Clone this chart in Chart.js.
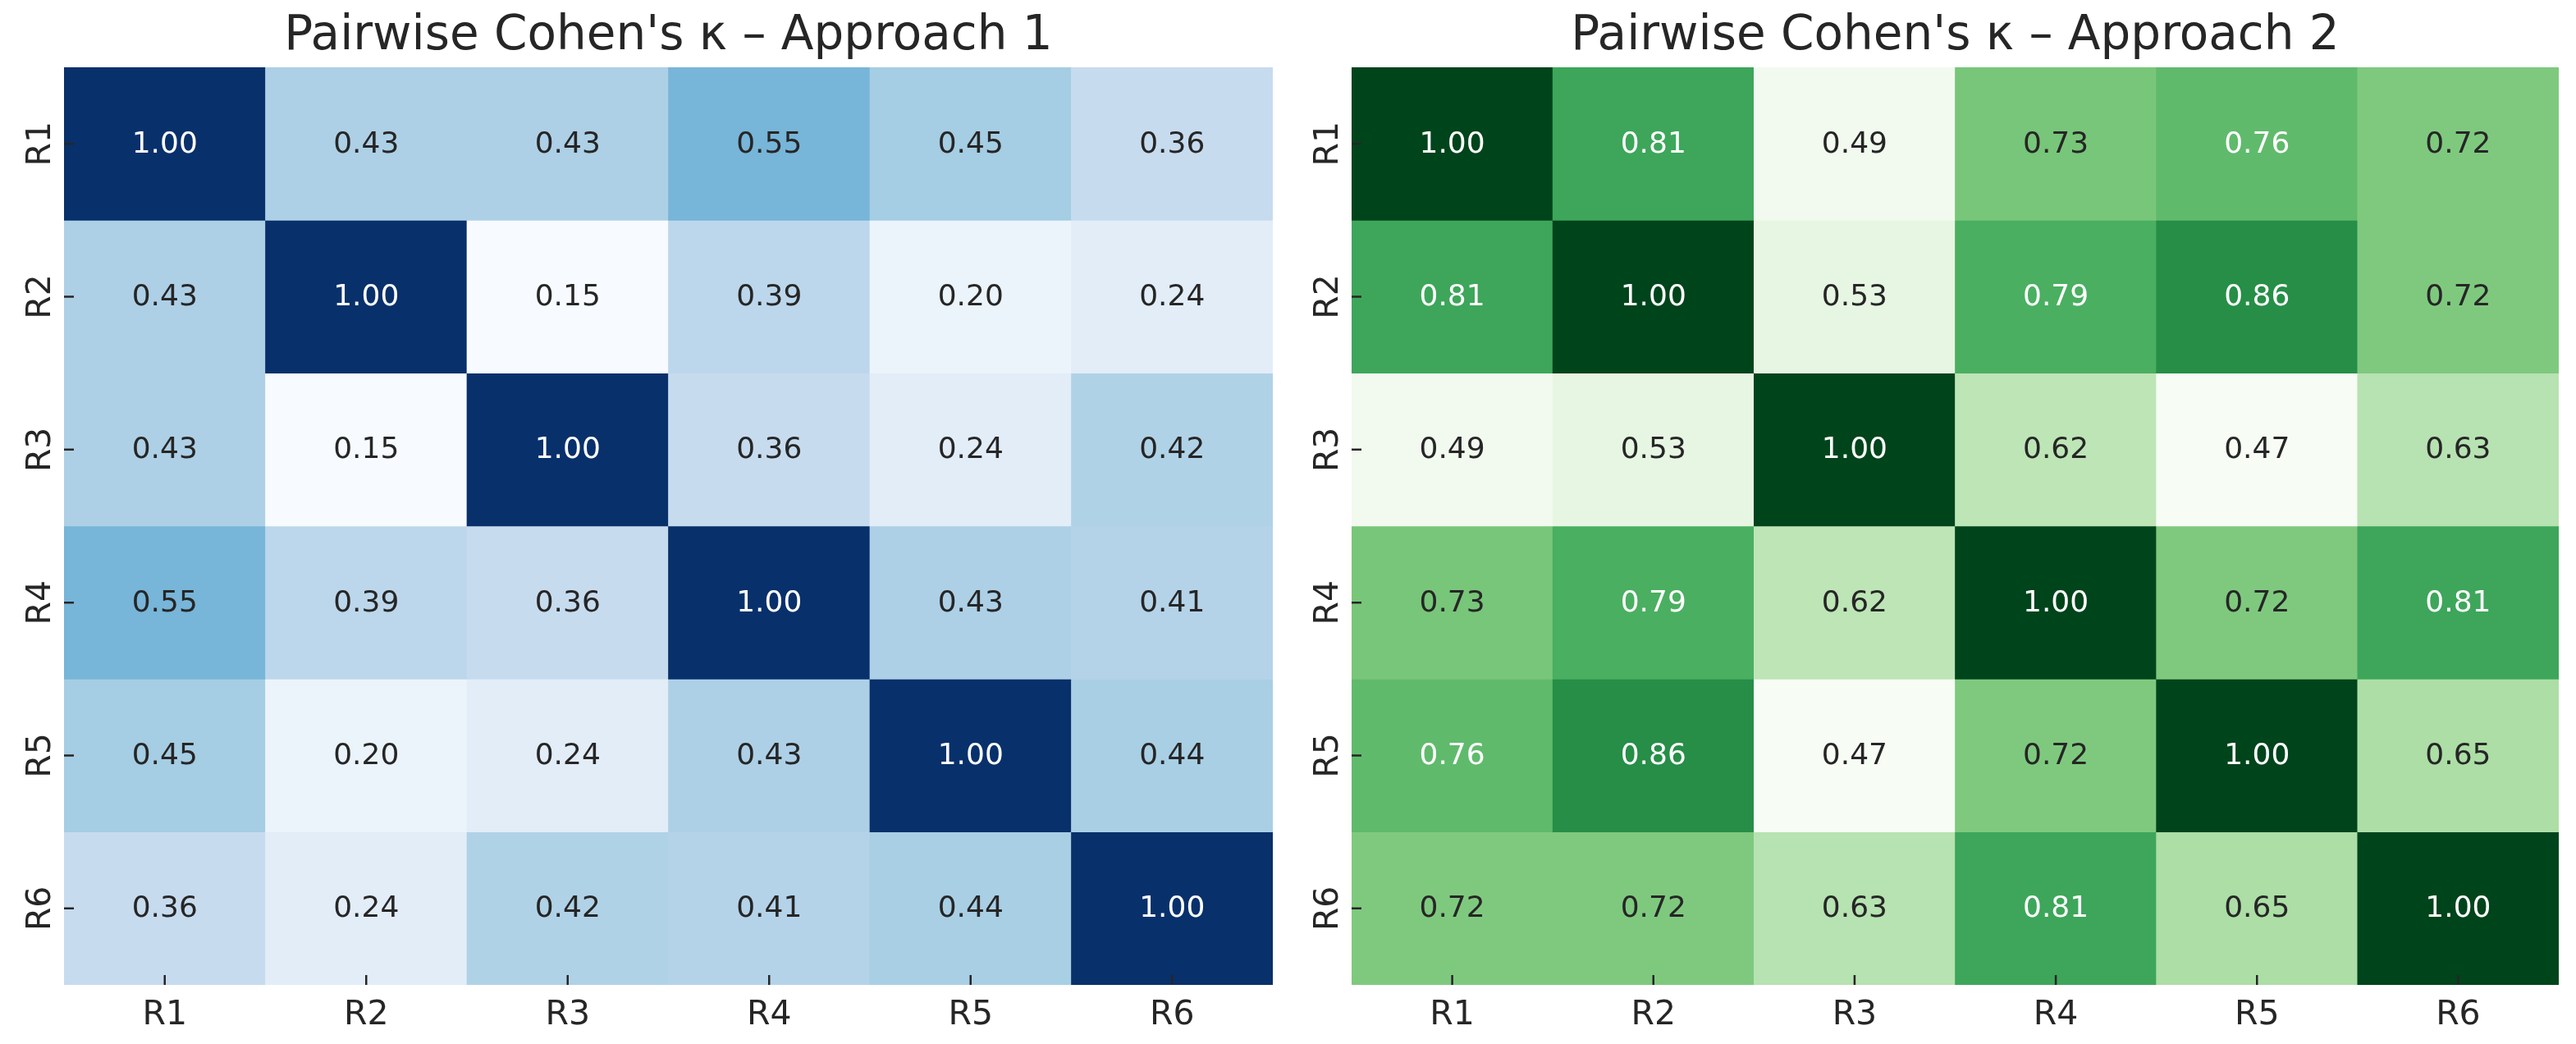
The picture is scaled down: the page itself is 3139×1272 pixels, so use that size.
<!DOCTYPE html>
<html>
<head>
<meta charset="utf-8">
<script src="https://cdn.jsdelivr.net/npm/chart.js@4.4.1/dist/chart.umd.min.js"></script>
<style>
  html, body { margin: 0; padding: 0; background: #fff; }
  body { width: 3139px; height: 1272px; position: relative; overflow: hidden; }
  canvas { position: absolute; top: 0; }
</style>
</head>
<body>
<canvas id="left" width="1600" height="1272" style="left:0;width:1600px;height:1272px"></canvas>
<canvas id="right" width="1539" height="1272" style="left:1600px;width:1539px;height:1272px"></canvas>
<script>
const raters = ['R1', 'R2', 'R3', 'R4', 'R5', 'R6'];

const kappaApproach1 = [
    [1.00, 0.43, 0.43, 0.55, 0.45, 0.36],
    [0.43, 1.00, 0.15, 0.39, 0.20, 0.24],
    [0.43, 0.15, 1.00, 0.36, 0.24, 0.42],
    [0.55, 0.39, 0.36, 1.00, 0.43, 0.41],
    [0.45, 0.20, 0.24, 0.43, 1.00, 0.44],
    [0.36, 0.24, 0.42, 0.41, 0.44, 1.00]
];

const kappaApproach2 = [
    [1.00, 0.81, 0.49, 0.73, 0.76, 0.72],
    [0.81, 1.00, 0.53, 0.79, 0.86, 0.72],
    [0.49, 0.53, 1.00, 0.62, 0.47, 0.63],
    [0.73, 0.79, 0.62, 1.00, 0.72, 0.81],
    [0.76, 0.86, 0.47, 0.72, 1.00, 0.65],
    [0.72, 0.72, 0.63, 0.81, 0.65, 1.00]
];

const titles = ["Pairwise Cohen's \u03ba \u2013 Approach 1", "Pairwise Cohen's \u03ba \u2013 Approach 2"];

// colorbrewer stops, same as matplotlib Blues / Greens
const blues = ['#f7fbff', '#deebf7', '#c6dbef', '#9ecae1', '#6baed6', '#4292c6', '#2171b5', '#08519c', '#08306b'];
const greens = ['#f7fcf5', '#e5f5e0', '#c7e9c0', '#a1d99b', '#74c476', '#41ab5d', '#238b45', '#006d2c', '#00441b'];

const FONT = "'DejaVu Sans', sans-serif";
const DARK = '#262626';

function hexRgb(h) {
    return [parseInt(h.slice(1, 3), 16), parseInt(h.slice(3, 5), 16), parseInt(h.slice(5, 7), 16)];
}

function makeCmap(stops, vmin, vmax) {
    const rgb = stops.map(hexRgb);
    return (v) => {
        let t = (v - vmin) / (vmax - vmin);
        t = Math.min(255, Math.max(0, Math.floor(t * 256))) / 255;
        const pos = t * (rgb.length - 1);
        const i = Math.min(rgb.length - 2, Math.floor(pos));
        const f = pos - i;
        return rgb[i].map((c, k) => Math.round(c + (rgb[i + 1][k] - c) * f));
    };
}

function luminance(rgb) {
    const lin = rgb.map(c => {
        c = c / 255;
        return c <= 0.03928 ? c / 12.92 : Math.pow((c + 0.055) / 1.055, 2.4);
    });
    return 0.2126 * lin[0] + 0.7152 * lin[1] + 0.0722 * lin[2];
}

// text, ticks and labels on top of the cells
const heatLabels = {
    id: 'heatLabels',
    afterDraw(chart, args, opts) {
        const ctx = chart.ctx;
        const area = chart.chartArea;
        const xs = chart.scales.x, ys = chart.scales.y;
        ctx.save();

        // annotations
        ctx.font = `36px ${FONT}`;
        ctx.textAlign = 'center';
        ctx.textBaseline = 'middle';
        chart.data.datasets.forEach((ds, i) => {
            chart.getDatasetMeta(i).data.forEach((bar, j) => {
                const v = opts.matrix[i][j];
                ctx.fillStyle = luminance(opts.cmap(v)) > 0.408 ? DARK : '#ffffff';
                const c = bar.getCenterPoint();
                ctx.fillText(v.toFixed(2), c.x, c.y + 1);
            });
        });

        // tick marks
        ctx.strokeStyle = DARK;
        ctx.lineWidth = 2.5;
        ctx.beginPath();
        raters.forEach((r, k) => {
            const x = xs.getPixelForValue(k);
            ctx.moveTo(x, area.bottom);
            ctx.lineTo(x, area.bottom - 12);
            const y = ys.getPixelForValue(k + 0.5);
            ctx.moveTo(area.left, y);
            ctx.lineTo(area.left + 12, y);
        });
        ctx.stroke();

        // tick labels
        ctx.fillStyle = DARK;
        ctx.font = `41px ${FONT}`;
        ctx.textBaseline = 'alphabetic';
        raters.forEach((r, k) => {
            ctx.textAlign = 'center';
            ctx.fillText(r, xs.getPixelForValue(k), area.bottom + 48);
            ctx.save();
            ctx.translate(area.left - 17, ys.getPixelForValue(k + 0.5));
            ctx.rotate(-Math.PI / 2);
            ctx.fillText(r, 0, 0);
            ctx.restore();
        });

        // title
        ctx.font = `58px ${FONT}`;
        ctx.textAlign = 'center';
        ctx.fillText(opts.title, (area.left + area.right) / 2, 60);
        ctx.restore();
    }
};

function drawHeatmap(id, matrix, stops, title, axisWidth, padRight) {
    const flat = matrix.flat();
    const cmap = makeCmap(stops, Math.min(...flat), Math.max(...flat));

    const datasets = matrix.map((row, i) => ({
        data: raters.map(c => ({ x: c, y: [i, i + 1] })),
        backgroundColor: row.map(v => `rgb(${cmap(v).join(',')})`),
        borderWidth: 0,
        grouped: false,
        barPercentage: 1,
        categoryPercentage: 1
    }));

    new Chart(document.getElementById(id), {
        type: 'bar',
        data: { labels: raters, datasets: datasets },
        options: {
            responsive: false,
            animation: false,
            devicePixelRatio: 1,
            layout: { padding: { top: 82, right: padRight, bottom: 0, left: 0 } },
            scales: {
                x: {
                    grid: { display: false },
                    border: { display: false },
                    ticks: { display: false },
                    afterFit: s => { s.height = 72; }
                },
                y: {
                    type: 'linear',
                    min: 0,
                    max: 6,
                    reverse: true,
                    grid: { display: false },
                    border: { display: false },
                    ticks: { display: false },
                    afterFit: s => { s.width = axisWidth; }
                }
            },
            plugins: {
                legend: { display: false },
                tooltip: { enabled: false },
                heatLabels: { matrix: matrix, cmap: cmap, title: title }
            }
        },
        plugins: [heatLabels]
    });
}

drawHeatmap('left', kappaApproach1, blues, titles[0], 78, 49);
drawHeatmap('right', kappaApproach2, greens, titles[1], 47, 21);
</script>
</body>
</html>
